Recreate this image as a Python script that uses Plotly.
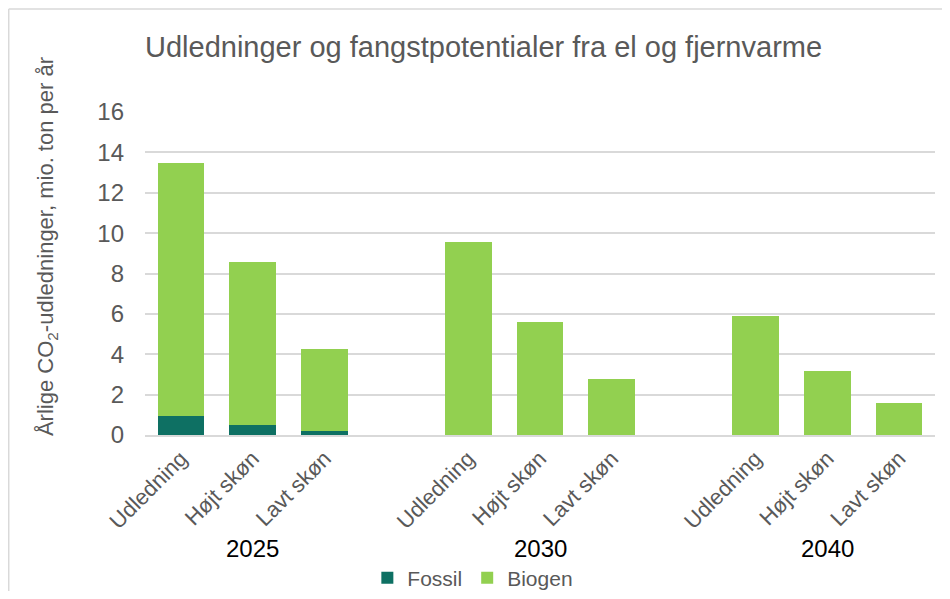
import plotly.graph_objects as go

# data
years = ["2025", "2030", "2040"]
scenarios = ["Udledning", "Højt skøn", "Lavt skøn"]
fossil = [0.95, 0.50, 0.22,
          0.0, 0.0, 0.0,
          0.0, 0.0, 0.0]
biogen = [12.52, 8.06, 4.04,
          9.56, 5.60, 2.77,
          5.89, 3.15, 1.58]

GREY = "#595959"
FONT = "Liberation Sans, Arial, sans-serif"

# each year group takes 3 slots, with one empty slot in between
xpos = [g * 4 + j for g in range(len(years)) for j in range(len(scenarios))]
xlabels = [s for _ in years for s in scenarios]

fig = go.Figure()
fig.add_trace(go.Bar(x=xpos, y=fossil, name="Fossil",
                     marker=dict(color="#0E7063", line=dict(width=0))))
fig.add_trace(go.Bar(x=xpos, y=biogen, name="Biogen",
                     marker=dict(color="#92D050", line=dict(width=0))))

# year labels under each group
for g, yr in enumerate(years):
    fig.add_annotation(x=g * 4 + 1, y=-0.35, xref="x", yref="paper",
                       text=yr, showarrow=False,
                       font=dict(size=24, color="black", family=FONT),
                       xanchor="center", yanchor="middle")

# y axis title
fig.add_annotation(x=-0.124, y=0.582, xref="paper", yref="paper",
                   text="Årlige CO<sub>2</sub>-udledninger, mio. ton per år",
                   textangle=-90, showarrow=False,
                   font=dict(size=22, color=GREY, family=FONT),
                   xanchor="center", yanchor="middle")

# chart title
fig.add_annotation(x=-0.003, y=1.201,
                   xref="paper", yref="paper",
                   text="Udledninger og fangstpotentialer fra el og fjernvarme",
                   showarrow=False, xanchor="left", yanchor="middle",
                   font=dict(size=29, color=GREY, family=FONT))

# chart border (top and left visible)
fig.add_shape(type="line", xref="paper", yref="paper",
              x0=-0.1725, x1=1.03, y0=1.319, y1=1.319,
              line=dict(color="#D9D9D9", width=1.5))
fig.add_shape(type="line", xref="paper", yref="paper",
              x0=-0.1725, x1=-0.1725, y0=1.319, y1=-0.6,
              line=dict(color="#D9D9D9", width=1.5))

fig.update_layout(
    width=934, height=583,
    margin=dict(l=137, r=7, t=104, b=156, autoexpand=False),
    barmode="stack",
    bargap=0.35,
    plot_bgcolor="white",
    paper_bgcolor="white",
    font=dict(family=FONT, color=GREY),
    legend=dict(orientation="h", x=0.415, xanchor="center",
                y=1 - 570 / 583, yref="container", yanchor="middle",
                font=dict(size=21, color=GREY, family=FONT),
                itemwidth=30, traceorder="normal"),
    xaxis=dict(tickmode="array", tickvals=xpos, ticktext=xlabels,
               tickangle=-45, range=[-0.5, 10.5],
               tickfont=dict(size=22, color=GREY, family=FONT),
               showgrid=False, ticks="", showline=True,
               linecolor="#D9D9D9", linewidth=2, zeroline=False),
    yaxis=dict(range=[0, 16], dtick=2,
               tickfont=dict(size=24, color=GREY, family=FONT),
               showgrid=True, gridcolor="#D9D9D9", gridwidth=1.5,
               zeroline=False, ticklabelstandoff=20, showline=False),
)

fig.write_html("out.html")
